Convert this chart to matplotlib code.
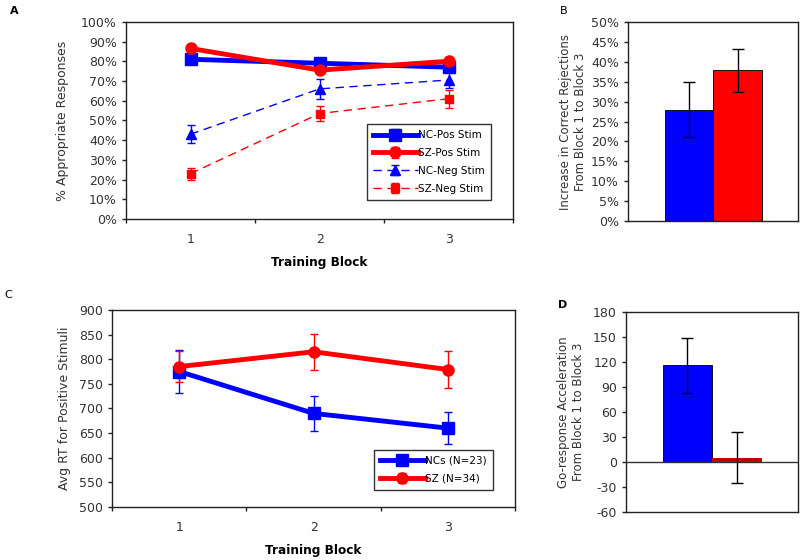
import numpy as np
import matplotlib.pyplot as plt

plt.rcParams['font.family'] = ['DejaVu Sans']
plt.rcParams['axes.unicode_minus'] = False

# ---- data ----
blocks = [1, 2, 3]

# panel A: % appropriate responses
nc_pos = [81, 79, 77]
nc_pos_err = [1.5, 1.5, 1.5]
sz_pos = [86.5, 75.5, 80]
sz_pos_err = [1.5, 1.5, 1.5]
nc_neg = [43, 66, 70.5]
nc_neg_err = [4.5, 5, 4]
sz_neg = [23, 53.5, 61]
sz_neg_err = [3, 4, 4.5]

# panel B: increase in correct rejections
b_vals = [28, 37.8]
b_errs = [7, 5.3]

# panel C: avg RT for positive stimuli
nc_rt = [775, 690, 660]
nc_rt_err = [43, 35, 32]
sz_rt = [785, 815, 779]
sz_rt_err = [31, 37, 37]

# panel D: go-response acceleration
d_vals = [116, 5]
d_errs = [33, 30.5]

blue = '#0000FF'
red = '#FF0000'
dred = '#C80000'
tick_c = '#333333'
TS = 9      # tick label size

fig = plt.figure(figsize=(8, 5.6), dpi=100)

def style(ax):
    for s in ax.spines.values():
        s.set_linewidth(1.0)
        s.set_color('#222222')
    ax.tick_params(axis='both', labelsize=TS, colors='#222222', labelcolor=tick_c,
                   direction='out', length=3, width=1)

# ---------- A ----------
axA = fig.add_axes([0.1575, 0.609, 0.484, 0.352])
axA.errorbar(blocks, nc_pos, yerr=nc_pos_err, color=blue, lw=3.5, marker='s', ms=8,
             capsize=3, elinewidth=1, label='NC-Pos Stim')
axA.errorbar(blocks, sz_pos, yerr=sz_pos_err, color=red, lw=3.5, marker='o', ms=8,
             capsize=3, elinewidth=1, label='SZ-Pos Stim')
axA.errorbar(blocks, nc_neg, yerr=nc_neg_err, color=blue, lw=1, ls=(0, (6, 4)), marker='^', ms=7,
             capsize=3, elinewidth=1, label='NC-Neg Stim')
axA.errorbar(blocks, sz_neg, yerr=sz_neg_err, color=red, lw=1, ls=(0, (6, 4)), marker='s', ms=6,
             capsize=3, elinewidth=1, label='SZ-Neg Stim')
axA.set_xlim(0.5, 3.5)
axA.set_ylim(0, 100)
axA.set_yticks(range(0, 101, 10))
axA.set_yticklabels([f'{v}%' for v in range(0, 101, 10)])
axA.set_xticks([0.5, 1.5, 2.5, 3.5], minor=False)
axA.set_xticklabels([])
axA.set_xticks(blocks, minor=True)
axA.set_xticklabels([str(b) for b in blocks], minor=True)
style(axA)
axA.tick_params(axis='x', which='minor', length=0, pad=10, labelsize=TS, labelcolor=tick_c)
axA.set_xlabel('Training Block', fontsize=8.7, fontweight='bold', labelpad=7)
axA.set_ylabel('% Appropriate Responses', fontsize=9, color=tick_c, labelpad=9)
leg = axA.legend(loc='lower right', bbox_to_anchor=(0.955, 0.07), fontsize=7.5, frameon=True,
                 fancybox=False, edgecolor='black', handlelength=4.3, handletextpad=0.0,
                 labelspacing=0.75, borderpad=0.6)
leg.get_frame().set_linewidth(1)
fig.text(0.012, 0.975, 'A', fontsize=8, fontweight='bold')

# ---------- B ----------
axB = fig.add_axes([0.785, 0.605, 0.213, 0.356])
axB.bar([0, 1], b_vals, width=1, color=[blue, red], edgecolor='#111111', lw=0.7,
        yerr=b_errs, capsize=4, error_kw=dict(elinewidth=1, capthick=1, ecolor='black'))
axB.set_xlim(-1.25, 2.25)
axB.set_ylim(0, 50)
axB.set_yticks(range(0, 51, 5))
axB.set_yticklabels([f'{v}%' for v in range(0, 51, 5)])
axB.set_xticks([])
style(axB)
axB.set_ylabel('Increase in Correct Rejections\nFrom Block 1 to Block 3', fontsize=8.5,
               color=tick_c, labelpad=3)
fig.text(0.7, 0.975, 'B', fontsize=8)

# ---------- C ----------
axC = fig.add_axes([0.14, 0.0946, 0.504, 0.352])
axC.errorbar(blocks, nc_rt, yerr=nc_rt_err, color=blue, lw=3.5, marker='s', ms=8,
             capsize=3, elinewidth=1, label='NCs (N=23)')
axC.errorbar(blocks, sz_rt, yerr=sz_rt_err, color=red, lw=3.5, marker='o', ms=8,
             capsize=3, elinewidth=1, label='SZ (N=34)')
axC.set_xlim(0.5, 3.5)
axC.set_ylim(500, 900)
axC.set_yticks(range(500, 901, 50))
axC.set_xticks([0.5, 1.5, 2.5, 3.5])
axC.set_xticklabels([])
axC.set_xticks(blocks, minor=True)
axC.set_xticklabels([str(b) for b in blocks], minor=True)
style(axC)
axC.tick_params(axis='x', which='minor', length=0, pad=10, labelsize=TS, labelcolor=tick_c)
axC.set_xlabel('Training Block', fontsize=8.7, fontweight='bold', labelpad=7)
axC.set_ylabel('Avg RT for Positive Stimuli', fontsize=9, color=tick_c, labelpad=6)
legC = axC.legend(loc='lower right', bbox_to_anchor=(0.957, 0.06), fontsize=7.5, frameon=True,
                  fancybox=False, edgecolor='black', handlelength=4.3, handletextpad=0.0,
                  labelspacing=0.75, borderpad=0.6)
legC.get_frame().set_linewidth(1)
fig.text(0.005, 0.468, 'C', fontsize=8)

# ---------- D ----------
axD = fig.add_axes([0.7825, 0.0857, 0.215, 0.357])
axD.bar([0, 1], d_vals, width=1, color=[blue, dred], edgecolor=['#111111', dred], lw=0.7,
        yerr=d_errs, capsize=4, error_kw=dict(elinewidth=1, capthick=1, ecolor='black'))
axD.axhline(0, color='#333333', lw=1)
axD.set_xlim(-1.25, 2.25)
axD.set_ylim(-60, 180)
axD.set_yticks(range(-60, 181, 30))
axD.set_xticks([])
style(axD)
axD.set_ylabel('Go-response Acceleration\nFrom Block 1 to Block 3', fontsize=8.5,
               color=tick_c, labelpad=6)
fig.text(0.697, 0.45, 'D', fontsize=8, fontweight='bold')

fig.savefig('out.png', dpi=100)
